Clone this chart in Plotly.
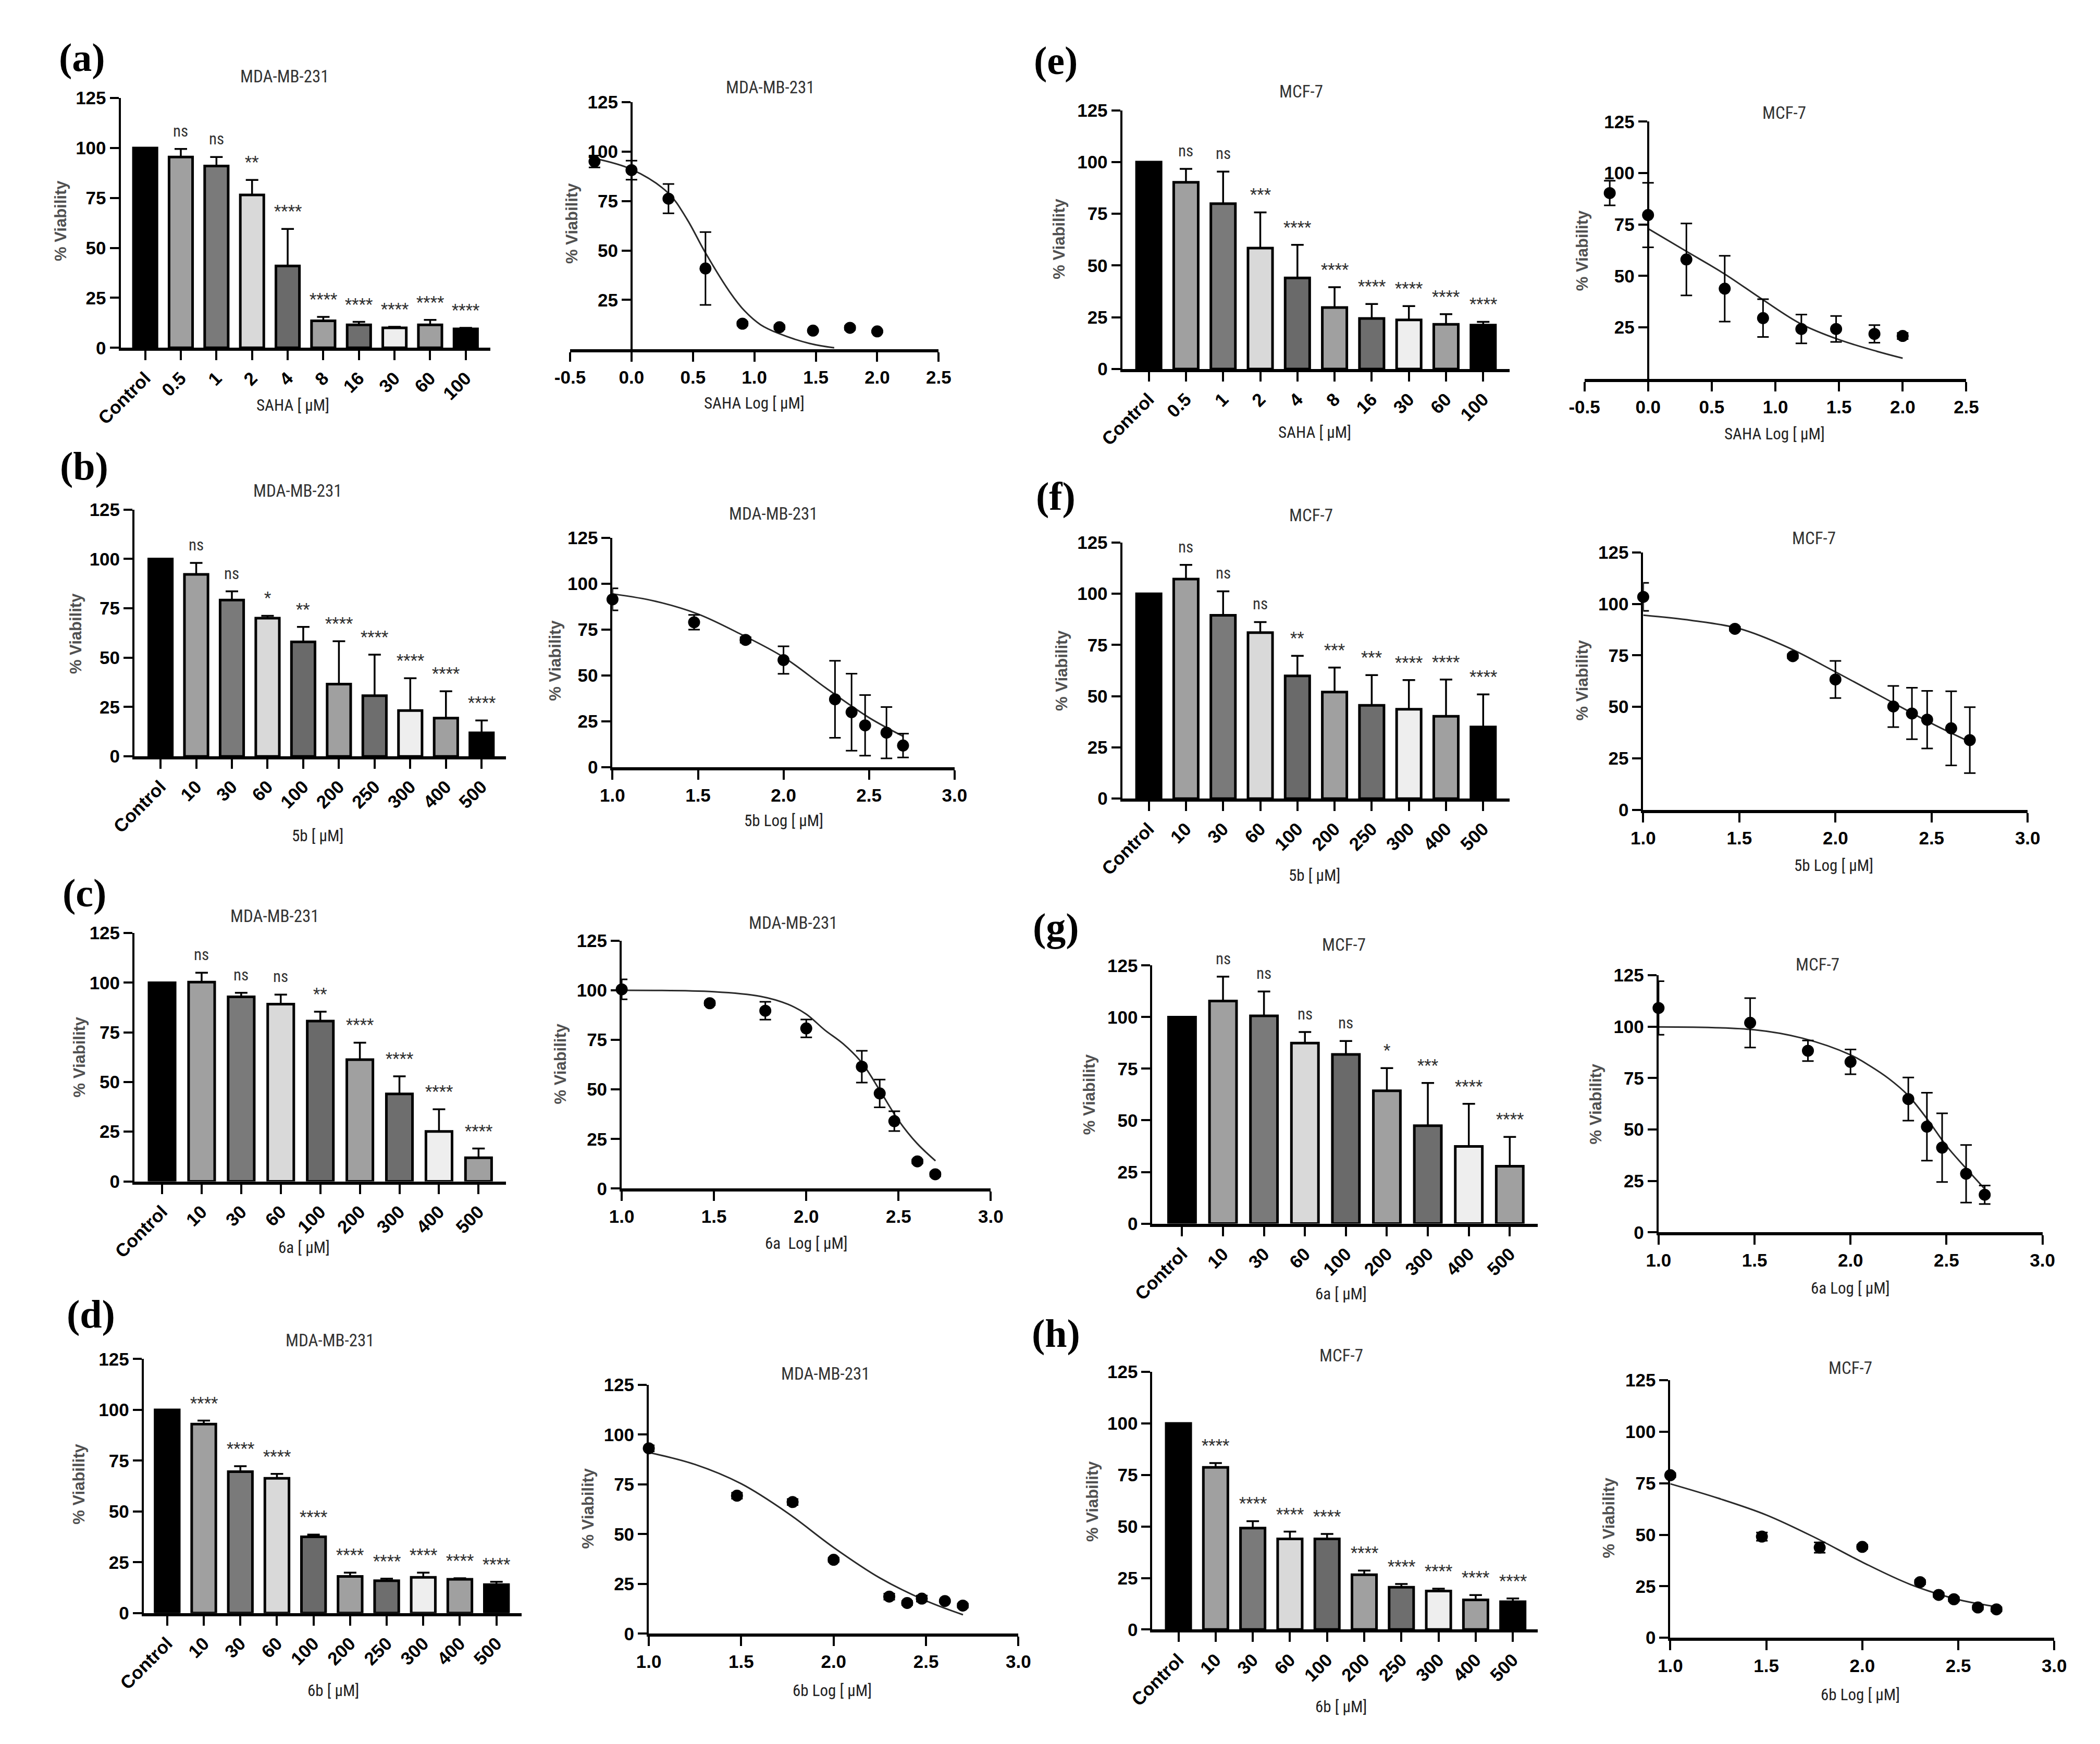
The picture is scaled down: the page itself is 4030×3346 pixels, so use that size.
import numpy as np
import plotly.graph_objects as go

W, H = 4030, 3346

# ---------------- data ----------------
saha_labels = ["Control", "0.5", "1", "2", "4", "8", "16", "30", "60", "100"]
saha_dose = [0.5, 1, 2, 4, 8, 16, 30, 60, 100]
cmp10_labels = ["Control", "10", "30", "60", "100", "200", "250", "300", "400", "500"]
cmp9_labels = ["Control", "10", "30", "60", "100", "200", "300", "400", "500"]
cmp_dose = [10, 30, 60, 100, 200, 250, 300, 400, 500]

# (a) MDA-MB-231, SAHA
a_bar = [100, 95.5, 91, 76.5, 41, 13.5, 11.5, 10, 11.5, 9.5]
a_err = [0, 4, 4.5, 7.5, 18.5, 2, 1.5, 0.5, 2.5, 0.5]
a_sig = ["", "ns", "ns", "**", "****", "****", "****", "****", "****", "****"]
a_pts = [95, 90.6, 76.2, 40.9, 13, 11.2, 9.5, 10.9, 9.1]
a_pts_err = [3, 4.8, 7.4, 18.4, 1, 1, 0.5, 1, 0.5]
a_fit_x = [-0.3, 0.0, 0.3, 0.45, 0.6, 0.8, 0.92, 1.05, 1.2, 1.45, 1.65]
a_fit_y = [96.5, 91, 79, 66, 49, 29, 19.5, 12.5, 8, 3, 0.8]

# (e) MCF-7, SAHA
e_bar = [100, 90.2, 79.9, 58.4, 44, 29.7, 24.4, 23.7, 21.6, 21.2]
e_err = [0, 6.5, 15.5, 17.3, 16, 9.8, 7, 6.7, 4.9, 1.6]
e_sig = ["", "ns", "ns", "***", "****", "****", "****", "****", "****", "****"]
e_pts = [90.3, 79.6, 58, 43.8, 29.5, 24.2, 24.2, 21.8, 20.8]
e_pts_err = [6, 15.7, 17.5, 16, 9.2, 7, 6.3, 4.3, 1.5]
e_fit_x = [0.0, 0.3, 0.6, 0.9, 1.2, 1.5, 1.8, 2.0]
e_fit_y = [73, 62, 51, 38.5, 26.7, 19, 13.3, 10]

# (b) MDA-MB-231, 5b
b_bar = [100, 92.2, 79.2, 70, 58, 36.6, 30.7, 23.2, 19.4, 11.9]
b_err = [0, 5.8, 4.4, 1.2, 7.6, 21.7, 20.8, 16.4, 13.6, 6.3]
b_sig = ["", "ns", "ns", "*", "**", "****", "****", "****", "****", "****"]
b_pts = [91.5, 79, 69.4, 58.4, 37, 30, 22.8, 18.8, 11.8]
b_pts_err = [6, 4, 1.5, 7.5, 21, 21, 16.5, 14, 6.5]
b_fit_x = [1.0, 1.25, 1.5, 1.75, 2.0, 2.25, 2.5, 2.7]
b_fit_y = [94.5, 90.5, 83.5, 72.5, 60, 43, 27, 16.8]

# (f) MCF-7, 5b
f_bar = [100, 107.2, 89.5, 81, 59.9, 52, 45.5, 43.6, 40.2, 35]
f_err = [0, 6.9, 11.7, 5.2, 9.8, 12, 14.8, 14.3, 17.9, 15.9]
f_sig = ["", "ns", "ns", "ns", "**", "***", "***", "****", "****", "****"]
f_pts = [103.4, 87.9, 74.6, 63.3, 50.2, 46.8, 43.8, 39.6, 33.9]
f_pts_err = [6.8, 1, 1, 9, 10, 12.5, 14, 18, 16]
f_fit_x = [1.0, 1.25, 1.5, 1.75, 2.0, 2.25, 2.5, 2.7]
f_fit_y = [94.5, 92, 88, 79, 67, 54.5, 42, 33]

# (c) MDA-MB-231, 6a
c_bar = [100, 100.3, 92.9, 89.2, 80.7, 61.3, 44, 25.1, 11.9]
c_err = [0, 4.7, 2, 4.8, 4.7, 8.5, 8.9, 11.2, 4.6]
c_sig = ["", "ns", "ns", "ns", "**", "****", "****", "****", "****"]
c_pts = [100.5, 93.5, 89.7, 80.8, 61.5, 48, 34, 13.7, 7.2]
c_pts_err = [5, 1, 4.5, 4.5, 8, 7, 5, 1, 1]
c_fit_x = [1.0, 1.5, 1.75, 1.9, 2.0, 2.1, 2.2, 2.3, 2.4, 2.5, 2.6, 2.7]
c_fit_y = [100, 99.3, 97, 93, 88, 80, 73, 63.6, 49.3, 34.4, 22.8, 14]

# (g) MCF-7, 6a
g_bar = [100, 107.8, 100.6, 87.4, 81.9, 64.3, 47.4, 37.4, 27.8]
g_err = [0, 11.8, 11.8, 5.4, 6.5, 11, 20.7, 20.6, 14.2]
g_sig = ["", "ns", "ns", "ns", "ns", "*", "***", "****", "****"]
g_pts = [109.1, 101.9, 88.3, 82.9, 64.8, 51.4, 41.2, 28.5, 18.3]
g_pts_err = [13, 12, 5, 6, 10.5, 16.5, 16.7, 14, 4.5]
g_fit_x = [1.0, 1.5, 1.75, 2.0, 2.1, 2.2, 2.3, 2.4, 2.5, 2.6, 2.7]
g_fit_y = [99.9, 98.5, 94.4, 86.3, 81, 74.7, 66.6, 55, 42, 31.3, 21]

# (d) MDA-MB-231, 6b
d_bar = [100, 93, 69.6, 66.3, 37.5, 18, 15.9, 17.6, 16.6, 14]
d_err = [0, 1.7, 2.7, 2.2, 1.1, 1.9, 1, 2.3, 0.5, 1.4]
d_sig = ["", "****", "****", "****", "****", "****", "****", "****", "****", "****"]
d_pts = [93.1, 69.3, 66.1, 37.1, 18.6, 15.4, 17.6, 16.4, 14.1]
d_pts_err = [1.5, 1.5, 1.5, 1, 1.5, 1, 1.5, 0.5, 1]
d_fit_x = [1.0, 1.25, 1.5, 1.75, 2.0, 2.25, 2.5, 2.7]
d_fit_y = [91, 85, 75.3, 60.7, 43.3, 28, 16.5, 9.5]

# (h) MCF-7, 6b
h_bar = [100, 78.7, 49.2, 44, 44, 26.6, 20.5, 18.7, 14.4, 13.5]
h_err = [0, 2.1, 3.4, 3.5, 2.4, 2, 1.6, 1.1, 2.3, 1.6]
h_sig = ["", "****", "****", "****", "****", "****", "****", "****", "****", "****"]
h_pts = [78.9, 49.1, 43.8, 44.1, 27, 20.8, 18.7, 14.7, 13.8]
h_pts_err = [1, 2, 2.5, 1, 1, 1, 1, 1, 1]
h_fit_x = [1.0, 1.25, 1.5, 1.75, 2.0, 2.25, 2.5, 2.7]
h_fit_y = [74.7, 67.7, 59.6, 48.8, 36.7, 25.9, 18.5, 15.1]

viab_ticks = [0, 25, 50, 75, 100, 125]
saha_curve_yticks = [25, 50, 75, 100, 125]
saha_log_ticks = [-0.5, 0.0, 0.5, 1.0, 1.5, 2.0, 2.5]
cmp_log_ticks = [1.0, 1.5, 2.0, 2.5, 3.0]

# ---------------- styling / layout ----------------
NARROW = "Liberation Sans Narrow, Arial Narrow, Roboto Condensed, Liberation Sans, Arial, sans-serif"
SANS = "Liberation Sans, Arial, sans-serif"
SERIF = "Liberation Serif, Times New Roman, serif"
BAR_COLORS = ["#000000", "#a0a0a0", "#7a7a7a", "#d9d9d9", "#6a6a6a",
              "#a0a0a0", "#6e6e6e", "#eeeeee", "#a0a0a0", "#000000"]
TICK_FONT = dict(family=SANS, size=35, color="black", weight="bold")


def fx(p):
    return p / W


def fy(p):
    return 1 - p / H


bar_panels = [
    dict(labels=saha_labels, vals=a_bar, errs=a_err, sig=a_sig, title="MDA-MB-231", xtitle="SAHA [ μM]",
         geo=(183, 906, 231, 858, 655, 170), t=(504, 128), xt=(520, 766), yt=(65, 408)),
    dict(labels=saha_labels, vals=e_bar, errs=e_err, sig=e_sig, title="MCF-7", xtitle="SAHA [ μM]",
         geo=(2142, 2900, 2194, 2848, 696, 194), t=(2492, 157), xt=(2518, 819), yt=(2019, 443)),
    dict(labels=cmp10_labels, vals=b_bar, errs=b_err, sig=b_sig, title="MDA-MB-231", xtitle="5b [ μM]",
         geo=(210, 937, 261, 889, 1448, 969), t=(529, 932), xt=(568, 1602), yt=(96, 1210)),
    dict(labels=cmp10_labels, vals=f_bar, errs=f_err, sig=f_sig, title="MCF-7", xtitle="5b [ μM]",
         geo=(2142, 2900, 2194, 2848, 1530, 1033), t=(2511, 980), xt=(2518, 1679), yt=(2023, 1281)),
    dict(labels=cmp9_labels, vals=c_bar, errs=c_err, sig=c_sig, title="MDA-MB-231", xtitle="6a [ μM]",
         geo=(210, 937, 264, 883, 2273, 1791), t=(485, 1758), xt=(542, 2401), yt=(102, 2032)),
    dict(labels=cmp9_labels, vals=g_bar, errs=g_err, sig=g_sig, title="MCF-7", xtitle="6a [ μM]",
         geo=(2201, 2955, 2259, 2900, 2355, 1854), t=(2576, 1814), xt=(2570, 2492), yt=(2078, 2104)),
    dict(labels=cmp10_labels, vals=d_bar, errs=d_err, sig=d_sig, title="MDA-MB-231", xtitle="6b [ μM]",
         geo=(228, 967, 274, 918, 3111, 2618), t=(593, 2582), xt=(599, 3262), yt=(102, 2861)),
    dict(labels=cmp10_labels, vals=h_bar, errs=h_err, sig=h_sig, title="MCF-7", xtitle="6b [ μM]",
         geo=(2201, 2955, 2252, 2906, 3143, 2643), t=(2570, 2611), xt=(2570, 3293), yt=(2084, 2894)),
]

curve_panels = [
    dict(dose=saha_dose, pts=a_pts, perr=a_pts_err, fitx=a_fit_x, fity=a_fit_y, title="MDA-MB-231",
         xtitle="SAHA Log [ μM]", geo=(1062, 1783, 658, 178), xr=(-0.5, 2.5), xticks=saha_log_ticks,
         yat=0.0, yticks=saha_curve_yticks, t=(1454, 149), xt=(1422, 762), yt=(1065, 413)),
    dict(dose=saha_dose, pts=e_pts, perr=e_pts_err, fitx=e_fit_x, fity=e_fit_y, title="MCF-7",
         xtitle="SAHA Log [ μM]", geo=(3046, 3793, 715, 216), xr=(-0.5, 2.5), xticks=saha_log_ticks,
         yat=0.0, yticks=saha_curve_yticks, t=(3437, 199), xt=(3418, 822), yt=(3042, 466)),
    dict(dose=cmp_dose, pts=b_pts, perr=b_pts_err, fitx=b_fit_x, fity=b_fit_y, title="MDA-MB-231",
         xtitle="5b Log [ μM]", geo=(1145, 1814, 1469, 1024), xr=(1.0, 3.0), xticks=cmp_log_ticks,
         yat=None, yticks=viab_ticks, t=(1460, 977), xt=(1480, 1573), yt=(1033, 1262)),
    dict(dose=cmp_dose, pts=f_pts, perr=f_pts_err, fitx=f_fit_x, fity=f_fit_y, title="MCF-7",
         xtitle="5b Log [ μM]", geo=(3161, 3913, 1552, 1052), xr=(1.0, 3.0), xticks=cmp_log_ticks,
         yat=None, yticks=viab_ticks, t=(3495, 1024), xt=(3534, 1660), yt=(3042, 1300)),
    dict(dose=cmp_dose, pts=c_pts, perr=c_pts_err, fitx=c_fit_x, fity=c_fit_y, title="MDA-MB-231",
         xtitle="6a  Log [ μM]", geo=(1163, 1885, 2287, 1806), xr=(1.0, 3.0), xticks=cmp_log_ticks,
         yat=None, yticks=viab_ticks, t=(1499, 1771), xt=(1524, 2393), yt=(1043, 2045)),
    dict(dose=cmp_dose, pts=g_pts, perr=g_pts_err, fitx=g_fit_x, fity=g_fit_y, title="MCF-7",
         xtitle="6a Log [ μM]", geo=(3191, 3942, 2372, 1873), xr=(1.0, 3.0), xticks=cmp_log_ticks,
         yat=None, yticks=viab_ticks, t=(3502, 1852), xt=(3566, 2480), yt=(3068, 2123)),
    dict(dose=cmp_dose, pts=d_pts, perr=d_pts_err, fitx=d_fit_x, fity=d_fit_y, title="MDA-MB-231",
         xtitle="6b Log [ μM]", geo=(1216, 1939, 3151, 2668), xr=(1.0, 3.0), xticks=cmp_log_ticks,
         yat=None, yticks=viab_ticks, t=(1562, 2646), xt=(1575, 3262), yt=(1097, 2908)),
    dict(dose=cmp_dose, pts=h_pts, perr=h_pts_err, fitx=h_fit_x, fity=h_fit_y, title="MCF-7",
         xtitle="6b Log [ μM]", geo=(3214, 3965, 3159, 2659), xr=(1.0, 3.0), xticks=cmp_log_ticks,
         yat=None, yticks=viab_ticks, t=(3566, 2635), xt=(3586, 3270), yt=(3094, 2926)),
]

panel_letters = [("(a)", 108, 92), ("(b)", 112, 885), ("(c)", 112, 1713), ("(d)", 125, 2531),
                 ("(e)", 2012, 98), ("(f)", 2012, 943), ("(g)", 2012, 1780), ("(h)", 2012, 2568)]

fig = go.Figure()
layout = {}
annots = []


def axkeys(i):
    return ("xaxis" if i == 1 else f"xaxis{i}", "yaxis" if i == 1 else f"yaxis{i}",
            "x" if i == 1 else f"x{i}", "y" if i == 1 else f"y{i}")


def text_annots(p):
    annots.append(dict(text=p["title"], x=fx(p["t"][0]), y=fy(p["t"][1]), xref="paper", yref="paper",
                       showarrow=False, xanchor="center", yanchor="middle",
                       font=dict(family=NARROW, size=33, color="#333333")))
    annots.append(dict(text=p["xtitle"], x=fx(p["xt"][0]), y=fy(p["xt"][1]), xref="paper", yref="paper",
                       showarrow=False, xanchor="center", yanchor="middle",
                       font=dict(family=NARROW, size=31, color="#222222")))
    annots.append(dict(text="% Viability", x=fx(p["yt"][0]), y=fy(p["yt"][1]), xref="paper", yref="paper",
                       showarrow=False, xanchor="center", yanchor="middle", textangle=-90,
                       font=dict(family=SANS, size=31, color="#505050", weight="bold")))


idx = 1
for p in bar_panels:
    xk, yk, xr_, yr_ = axkeys(idx)
    left, right, c0, cN, y0, y125 = p["geo"]
    n = len(p["vals"])
    step = (cN - c0) / (n - 1)
    lo = -(c0 - left) / step
    hi = (n - 1) + (right - cN) / step
    pos = list(range(n))
    fig.add_trace(go.Bar(
        x=pos, y=p["vals"], xaxis=xr_, yaxis=yr_, width=0.66,
        marker=dict(color=BAR_COLORS[:n], line=dict(color="black", width=5)),
        error_y=dict(type="data", symmetric=False, array=p["errs"], arrayminus=[0] * n,
                     color="black", thickness=3.5, width=12),
        showlegend=False, hoverinfo="skip"))
    layout[xk] = dict(domain=[fx(left), fx(right)], range=[lo, hi], anchor=yr_,
                      showline=True, linewidth=6, linecolor="black", mirror=False,
                      ticks="outside", ticklen=18, tickwidth=4, tickcolor="black",
                      tickvals=pos, ticktext=p["labels"], tickangle=-45,
                      tickfont=TICK_FONT,
                      showgrid=False, zeroline=False, fixedrange=True)
    layout[yk] = dict(domain=[fy(y0), fy(y125)], range=[0, 125], anchor=xr_,
                      showline=True, linewidth=4, linecolor="black",
                      ticks="outside", ticklen=17, tickwidth=4, tickcolor="black",
                      tickvals=viab_ticks, ticktext=[str(v) for v in viab_ticks],
                      tickfont=TICK_FONT,
                      showgrid=False, zeroline=False, fixedrange=True)
    for i, s in enumerate(p["sig"]):
        if s:
            annots.append(dict(text=s, x=i, y=p["vals"][i] + p["errs"][i], xref=xr_, yref=yr_,
                               showarrow=False, xanchor="center", yanchor="bottom", yshift=14,
                               font=dict(family=NARROW, size=31, color="#333333")))
    text_annots(p)
    idx += 1

for p in curve_panels:
    xk, yk, xr_, yr_ = axkeys(idx)
    left, right, y0, y125 = p["geo"]
    logx = list(np.log10(p["dose"]))
    fig.add_trace(go.Scatter(x=p["fitx"], y=p["fity"], xaxis=xr_, yaxis=yr_, mode="lines",
                             line=dict(color="#2a2a2a", width=3, shape="spline", smoothing=1.0),
                             showlegend=False, hoverinfo="skip", cliponaxis=False))
    fig.add_trace(go.Scatter(x=logx, y=p["pts"], xaxis=xr_, yaxis=yr_, mode="markers",
                             marker=dict(color="black", size=23),
                             error_y=dict(type="data", array=p["perr"], color="black", thickness=3, width=11),
                             showlegend=False, hoverinfo="skip", cliponaxis=False))
    x0r, x1r = p["xr"]
    layout[xk] = dict(domain=[fx(left), fx(right)], range=[x0r, x1r], anchor=yr_,
                      showline=True, linewidth=6, linecolor="black",
                      ticks="outside", ticklen=18, tickwidth=4, tickcolor="black",
                      tickvals=p["xticks"], ticktext=[f"{v:.1f}" for v in p["xticks"]],
                      tickfont=TICK_FONT,
                      showgrid=False, zeroline=False, fixedrange=True)
    ydict = dict(domain=[fy(y0), fy(y125)], range=[0, 125],
                 showline=True, linewidth=4, linecolor="black",
                 ticks="outside", ticklen=17, tickwidth=4, tickcolor="black",
                 tickvals=p["yticks"], ticktext=[str(v) for v in p["yticks"]],
                 tickfont=TICK_FONT,
                 showgrid=False, zeroline=False, fixedrange=True)
    if p["yat"] is not None:
        frac = (p["yat"] - x0r) / (x1r - x0r)
        ydict.update(anchor="free", position=fx(left + frac * (right - left)))
    else:
        ydict.update(anchor=xr_)
    layout[yk] = ydict
    text_annots(p)
    idx += 1

for lab, x, y in panel_letters:
    annots.append(dict(text=lab, x=fx(x), y=fy(y), xref="paper", yref="paper", showarrow=False,
                       xanchor="center", yanchor="middle",
                       font=dict(family=SERIF, size=76, color="black", weight="bold")))

fig.update_layout(width=W, height=H, margin=dict(l=0, r=0, t=0, b=0),
                  paper_bgcolor="white", plot_bgcolor="white", annotations=annots,
                  bargap=0.34, **layout)

fig.write_html("out.html", config={"displayModeBar": False},
               post_script="document.body.style.margin='0';")
